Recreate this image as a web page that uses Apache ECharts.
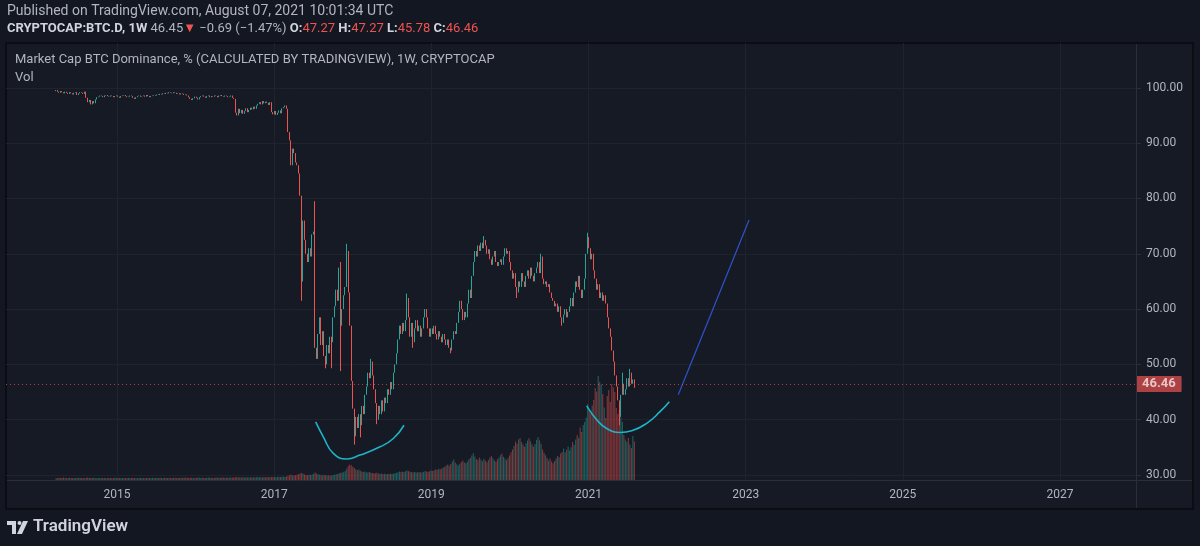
<!DOCTYPE html>
<html>
<head>
<meta charset="utf-8">
<title>CRYPTOCAP:BTC.D 1W</title>
<script src="https://cdn.jsdelivr.net/npm/echarts@6/dist/echarts.min.js"></script>
<style>
  html, body { margin: 0; padding: 0; background: #131722; }
  #chart { width: 1200px; height: 546px; }
</style>
</head>
<body>
<div id="chart"></div>
<script type="text/javascript">
// weekly candles, first week starts 2014-03-24
var firstWeek = Date.UTC(2014, 2, 24);
var firstOpen = 99.4;

// weekly closes (%)
var closes = [
  99.6, 99.3, 99.1, 99.4, 99.2, 99.0, 99.3, 99.1, 98.9, 99.2,
  99.0, 98.8, 99.1, 99.2, 98.7, 99.0, 99.2, 99.1, 98.9, 99.3,
  98.2, 97.4, 97.8, 97.0, 97.6, 97.2, 97.9, 98.3, 98.4, 98.6,
  98.5, 98.3, 98.6, 98.7, 98.5, 98.4, 98.6, 98.5, 98.3, 98.5,
  98.6, 98.4, 98.2, 98.5, 98.6, 98.7, 98.5, 98.3, 98.4, 98.6,
  98.5, 98.2, 98.0, 98.3, 98.5, 98.6, 98.4, 98.5, 98.6, 98.4,
  98.7, 98.5, 98.3, 98.5, 98.6, 98.7, 98.6, 98.8, 98.7, 98.9,
  98.8, 99.0, 98.9, 99.1, 99.0, 99.2, 99.1, 99.0, 99.2, 99.1,
  98.9, 99.0, 98.8, 99.0, 98.9, 98.7, 98.8, 98.6, 98.3, 98.0,
  97.8, 98.1, 98.4, 98.2, 97.9, 98.3, 98.5, 98.6, 98.4, 98.2,
  98.5, 98.6, 98.3, 98.5, 98.4, 98.6, 98.5, 98.3, 98.6, 98.7,
  98.5, 98.4, 98.6, 98.5, 98.3, 98.4, 98.6, 98.2, 98.0, 95.5,
  95.0, 96.2, 95.4, 96.0, 95.3, 95.8, 96.3, 95.6, 96.0, 96.4,
  96.1, 96.6, 96.2, 96.8, 97.1, 97.4, 97.0, 97.6, 97.2, 97.5,
  97.3, 96.9, 97.4, 95.6, 95.2, 95.8, 95.1, 95.5, 95.9, 95.4,
  96.3, 96.5, 96.8, 96.2, 92.0, 90.5, 86.0, 89.0, 88.2, 86.5,
  86.0, 84.5, 80.5, 70.5, 76.0, 72.5, 70.0, 68.5, 71.0, 69.5,
  73.5, 74.0, 53.0, 51.0, 55.5, 58.5, 53.5, 56.0, 51.5, 50.0,
  53.5, 52.0, 55.0, 54.0, 58.5, 60.5, 63.5, 61.5, 67.5, 57.0,
  60.0, 62.5, 64.0, 70.5, 63.0, 57.0, 47.0, 42.0, 37.0, 40.5,
  38.5, 41.0, 39.0, 42.5, 41.0, 44.5, 46.0, 48.5, 47.5, 50.5,
  48.0, 45.5, 43.0, 40.0, 42.5, 41.0, 43.5, 41.5, 44.0, 43.0,
  45.5, 44.5, 46.8, 45.5, 48.5, 50.0, 52.0, 54.5, 57.0, 55.5,
  57.5, 56.0, 58.0, 62.0, 58.5, 55.0, 57.5, 54.0, 56.5, 58.0,
  56.0, 57.0, 55.0, 56.5, 58.5, 60.0, 58.5, 56.5, 55.0, 56.5,
  55.5, 57.0, 55.5, 54.5, 56.0, 55.0, 54.0, 55.5, 54.5, 53.5,
  54.5, 53.0, 52.5, 54.5, 56.0, 55.5, 57.5, 59.5, 61.5, 60.0,
  58.0, 59.5, 58.5, 61.0, 63.5, 62.0, 66.0, 68.5, 70.5, 69.5,
  71.5, 70.5, 72.0, 71.0, 72.5, 71.5, 70.0, 70.8, 69.0, 68.0,
  69.5, 70.5, 68.5, 67.8, 68.5, 69.0, 68.0, 69.5, 71.0, 70.0,
  70.5, 68.5, 67.0, 65.5, 66.5, 64.0, 63.0, 65.0, 64.0, 66.5,
  65.0, 64.0, 66.0, 67.0, 65.5, 67.5, 66.0, 65.0, 66.5, 67.5,
  68.5, 66.5, 69.5, 65.5, 64.5, 65.0, 64.0, 64.5, 63.0, 62.0,
  61.5, 60.5, 61.0, 59.5, 60.5, 58.5, 57.5, 59.0, 60.0, 58.5,
  59.5, 60.5, 62.0, 60.5, 63.0, 65.0, 64.0, 66.0, 63.5, 62.0,
  63.5, 65.5, 70.0, 73.0, 71.0, 69.0, 70.0, 67.0, 65.5, 63.5,
  64.5, 62.0, 63.0, 61.5, 62.5, 61.0, 58.5, 56.5, 55.0, 52.5,
  50.5, 48.0, 46.0, 43.5, 40.5, 44.5, 46.5, 44.5, 45.5, 47.5,
  46.0, 48.5, 46.5, 47.27, 46.46
];

// wicks that stick out of the bodies: [week index, value]
var wickHigh = [[172, 79.5], [189, 68.5], [193, 71.8], [209, 51.0], [233, 62.8],
  [284, 73.2], [322, 70.0], [353, 73.8], [376, 48.5], [381, 49.2], [384, 47.27]];
var wickLow = [[163, 61.5], [164, 65.0], [179, 49.3], [183, 49.3], [189, 48.8],
  [198, 35.5], [202, 36.8], [213, 39.2], [237, 53.0], [262, 52.0], [306, 62.0],
  [336, 57.0], [374, 39.0], [384, 45.78]];

// weekly volume (relative units)
var volumes = [
  2.0, 1.8, 2.2, 1.9, 2.1, 2.4, 2.0, 1.7, 1.9, 2.2, 2.0, 1.8, 2.1, 1.9, 2.0,
  2.3, 2.1, 1.9, 2.0, 1.8, 2.2, 2.5, 2.1, 1.9, 2.0, 2.2, 1.8, 1.9, 2.1, 2.0,
  1.8, 1.9, 2.0, 2.1, 1.7, 1.9, 2.0, 1.8, 2.0, 2.2, 1.9, 1.8, 2.0, 2.1, 1.9,
  2.0, 1.8, 1.9, 2.1, 2.0, 1.9, 2.2, 2.0, 1.8, 1.9, 2.0, 2.1, 1.9, 1.8, 2.0,
  2.1, 2.0, 1.9, 2.0, 2.2, 2.1, 1.9, 2.0, 2.1, 2.2, 2.0, 2.1, 2.3, 2.1, 2.0,
  2.2, 2.1, 2.0, 2.2, 2.3, 2.1, 2.0, 2.2, 2.1, 2.3, 2.2, 2.4, 2.2, 2.1, 2.3,
  2.2, 2.0, 2.1, 2.3, 2.2, 2.4, 2.1, 2.2, 2.3, 2.1, 2.2, 2.4, 2.3, 2.2, 2.1,
  2.3, 2.2, 2.4, 2.3, 2.2, 2.4, 2.5, 2.3, 2.2, 2.4, 2.3, 2.5, 2.4, 2.6, 2.8,
  2.9, 2.6, 2.8, 2.5, 2.7, 2.6, 2.8, 2.5, 2.6, 2.7, 2.5, 2.8, 2.6, 2.7, 2.9,
  2.7, 2.8, 2.6, 2.9, 2.7, 2.8, 3.0, 2.7, 3.1, 2.9, 3.0, 2.8, 3.1, 3.2, 3.0,
  3.2, 3.4, 3.1, 3.5, 4.2, 4.8, 5.5, 4.6, 4.4, 4.9,
  5.2, 5.8, 6.4, 7.0, 6.2, 5.6, 5.0, 4.8, 5.3, 4.9,
  5.6, 6.2, 7.5, 6.4, 5.8, 5.2, 4.9, 4.6, 5.0, 4.7,
  4.5, 4.8, 4.4, 4.6, 5.0, 5.3, 5.8, 6.1, 6.8, 7.2,
  7.5, 8.2, 9.0, 11.5, 14.0, 15.5, 14.8, 13.2, 12.0, 10.5,
  9.8, 10.4, 9.2, 8.6, 8.0, 8.4, 7.8, 7.4, 8.0, 7.2,
  7.0, 6.6, 6.8, 7.2, 6.5, 6.2, 6.6, 6.0, 6.3, 5.8,
  6.1, 5.9, 6.4, 6.0, 6.5, 6.8, 7.2, 7.8, 8.5, 8.0,
  8.4, 7.9, 8.8, 9.6, 8.9, 8.2, 8.0, 7.6, 8.1, 7.8,
  7.5, 7.9, 7.4, 7.8, 8.3, 9.0, 8.6, 8.2, 8.8, 9.4,
  9.0, 9.8, 10.5, 10.0, 11.2, 10.8, 11.5, 12.4, 13.0, 14.5,
  15.5, 14.2, 16.0, 18.5, 20.4, 17.6, 15.8, 14.6, 16.2, 18.0,
  19.5, 17.4, 16.8, 18.2, 20.5, 22.0, 24.6, 26.8, 23.5, 21.0,
  19.8, 22.4, 20.6, 18.8, 21.2, 19.4, 17.8, 20.0, 22.5, 24.0,
  21.8, 19.6, 18.2, 20.8, 22.6, 24.8, 26.4, 23.2, 21.4, 19.8,
  22.0, 24.5, 27.8, 30.5, 34.0, 38.5, 36.2, 40.5, 42.0, 38.0,
  35.5, 33.0, 36.8, 39.5, 41.8, 38.6, 35.4, 33.2, 36.0, 40.2,
  43.0, 39.5, 36.0, 30.5, 27.2, 24.8, 22.0, 19.5, 21.6, 18.4,
  16.8, 19.0, 21.5, 24.0, 22.8, 26.5,
  28.0, 31.5, 27.4, 30.2, 33.6, 29.5, 32.8, 38.0, 35.2, 40.5,
  44.8, 42.0, 52.5, 48.0, 55.0,
  58.0, 62.5, 76.0, 70.5, 66.0, 74.5, 80.0,
  92.0, 88.5, 104.0, 98.0, 95.5,
  86.0, 72.5, 62.0, 84.0, 90.0,
  78.0, 96.0, 92.5, 88.0, 72.0,
  66.0, 70.0, 62.5, 58.0,
  45.0, 40.5, 38.0, 42.0, 35.5, 32.0, 44.0, 38.5
];

var yearTicks = [2015, 2017, 2019, 2021, 2023, 2025, 2027];
var priceTicks = [30, 40, 50, 60, 70, 80, 90, 100];
var lastPrice = 46.46;

// hand drawings on the chart: [year, value]
var arcLeft = [[2017.528, 39.6], [2017.625, 36.9], [2017.752, 33.9], [2017.923, 32.9],
  [2018.092, 33.6], [2018.347, 35.1], [2018.516, 36.6], [2018.652, 39.0]];
var arcRight = [[2020.977, 42.5], [2021.104, 40.0], [2021.232, 38.4], [2021.401, 37.7],
  [2021.550, 38.0], [2021.740, 39.35], [2021.910, 41.45], [2022.028, 43.25]];
var trendLine = [[2022.142, 44.5], [2023.043, 76.1]];

var UP = '#26a69a', DOWN = '#ef5350';
var FONT = 'Roboto, "Noto Sans", sans-serif';

function weekToYear(i) {
    var t = firstWeek + i * 7 * 86400000;
    var y = new Date(t).getUTCFullYear();
    var y0 = Date.UTC(y, 0, 1), y1 = Date.UTC(y + 1, 0, 1);
    return y + (t - y0) / (y1 - y0);
}

var candleData = [], volData = [];
for (var i = 0; i < closes.length; i++) {
    var o = i ? closes[i - 1] : firstOpen;
    var c = closes[i];
    var hi = Math.max(o, c), lo = Math.min(o, c);
    wickHigh.forEach(function (w) { if (w[0] === i) hi = Math.max(hi, w[1]); });
    wickLow.forEach(function (w) { if (w[0] === i) lo = Math.min(lo, w[1]); });
    var x = weekToYear(i);
    candleData.push([x, o, c, lo, hi]);
    volData.push({
        value: [x, volumes[i]],
        itemStyle: { color: c >= o ? 'rgba(38,166,154,0.5)' : 'rgba(239,83,80,0.5)' }
    });
}

var chart = echarts.init(document.getElementById('chart'));
var option = {
    backgroundColor: '#131722',
    animation: false,
    textStyle: { fontFamily: FONT },
    grid: { left: 6, right: 64, top: 43, bottom: 66 },
    xAxis: {
        type: 'value',
        min: 2013.587,
        max: 2027.967,
        axisLine: { show: false },
        axisTick: { show: false, customValues: yearTicks },
        axisLabel: {
            customValues: yearTicks,
            formatter: function (v) { return String(v); },
            color: '#b2b5be', fontSize: 12, margin: 9, fontFamily: FONT
        },
        splitLine: { show: true, lineStyle: { color: '#1f232e', width: 1 } }
    },
    yAxis: [{
        type: 'value',
        position: 'right',
        min: 29.1,
        max: 108.1,
        axisLine: { show: false },
        axisTick: { show: true, length: 5, customValues: priceTicks, lineStyle: { color: '#2a2e39' } },
        axisLabel: {
            customValues: priceTicks,
            formatter: function (v) { return v.toFixed(2); },
            color: '#b2b5be', fontSize: 12, margin: 10, fontFamily: FONT
        },
        splitLine: { show: true, lineStyle: { color: '#1f232e', width: 1 } }
    }, {
        type: 'value',
        min: 0,
        max: 437,
        show: false,
        splitLine: { show: false }
    }],
    series: [{
        name: 'Vol',
        type: 'bar',
        yAxisIndex: 1,
        barWidth: 1.1,
        silent: true,
        z: 1,
        data: volData
    }, {
        name: 'BTC.D',
        type: 'candlestick',
        barWidth: 0.6,
        silent: true,
        z: 3,
        encode: { x: 0, y: [1, 2, 3, 4] },
        itemStyle: { color: UP, color0: DOWN, borderColor: UP, borderColor0: DOWN, borderWidth: 1 },
        data: candleData,
        markLine: {
            silent: true,
            symbol: 'none',
            animation: false,
            lineStyle: { color: DOWN, type: [1, 3], width: 1, opacity: 0.7 },
            label: {
                position: 'end',
                distance: 0,
                formatter: lastPrice.toFixed(2),
                backgroundColor: DOWN,
                color: '#ffffff',
                fontWeight: 'bold',
                fontSize: 13,
                fontFamily: FONT,
                padding: [2, 6, 1, 6],
                borderRadius: 1
            },
            data: [{ yAxis: lastPrice }]
        }
    }, {
        type: 'line',
        data: arcLeft,
        smooth: true,
        symbol: 'none',
        silent: true,
        z: 4,
        lineStyle: { color: '#1fb3c8', width: 1.6 }
    }, {
        type: 'line',
        data: arcRight,
        smooth: true,
        symbol: 'none',
        silent: true,
        z: 4,
        lineStyle: { color: '#1fb3c8', width: 1.6 }
    }, {
        type: 'line',
        data: trendLine,
        symbol: 'none',
        silent: true,
        z: 4,
        lineStyle: { color: '#2f52c9', width: 1.2 }
    }],
    graphic: [
        // chart pane
        { type: 'rect', z: -10, silent: true, shape: { x: 6, y: 43, width: 1187, height: 466 },
          style: { fill: '#161a25', stroke: '#0b0d12', lineWidth: 2 } },
        { type: 'line', z: 10, silent: true, shape: { x1: 1136.5, y1: 44, x2: 1136.5, y2: 508 },
          style: { stroke: '#2a2e39', lineWidth: 1 } },
        { type: 'line', z: 10, silent: true, shape: { x1: 7, y1: 480.5, x2: 1192, y2: 480.5 },
          style: { stroke: '#2a2e39', lineWidth: 1 } },
        // header
        { type: 'text', z: 20, silent: true, left: 7, top: 4,
          style: { text: 'Published on TradingView.com, August 07, 2021 10:01:34 UTC',
                   fill: '#b2b5be', font: '14px ' + FONT } },
        { type: 'text', z: 20, silent: true, left: 7, top: 22,
          style: {
            text: '{b|CRYPTOCAP:BTC.D, 1W} {n|46.45}{r|▼} {n|\u22120.69 (\u22121.47%)} {b|O:}{r|47.27} {b|H:}{r|47.27} {b|L:}{r|45.78} {b|C:}{r|46.46}',
            font: '13px ' + FONT,
            rich: {
                b: { fill: '#d1d4dc', fontWeight: 'bold', fontSize: 13, fontFamily: FONT },
                n: { fill: '#b2b5be', fontSize: 13, fontFamily: FONT },
                r: { fill: '#ef5350', fontSize: 13, fontFamily: FONT }
            }
          } },
        { type: 'text', z: 20, silent: true, left: 15, top: 53,
          style: { text: 'Market Cap BTC Dominance, % (CALCULATED BY TRADINGVIEW), 1W, CRYPTOCAP',
                   fill: '#b2b5be', font: '13px ' + FONT } },
        { type: 'text', z: 20, silent: true, left: 15, top: 71,
          style: { text: 'Vol', fill: '#b2b5be', font: '13px ' + FONT } },
        // footer logo
        { type: 'polygon', z: 20, silent: true,
          shape: { points: [[7, 521], [16, 521], [16, 534], [12, 534], [12, 525], [7, 525]] },
          style: { fill: '#d1d4dc' } },
        { type: 'circle', z: 20, silent: true, shape: { cx: 19.5, cy: 523, r: 2 },
          style: { fill: '#d1d4dc' } },
        { type: 'polygon', z: 20, silent: true,
          shape: { points: [[23, 521], [28, 521], [22, 534], [17, 534]] },
          style: { fill: '#d1d4dc' } },
        { type: 'text', z: 20, silent: true, left: 33, top: 518,
          style: { text: 'TradingView', fill: '#d1d4dc', font: '600 17px ' + FONT } }
    ]
};
chart.setOption(option);
</script>
</body>
</html>
